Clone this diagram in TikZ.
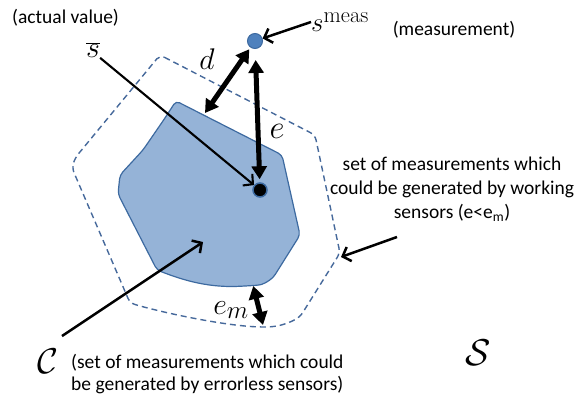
\documentclass[tikz,border=0pt]{standalone}
\usepackage{fontspec}
\setmainfont{Carlito}
\setmathrm{Latin Modern Roman}
\usetikzlibrary{arrows.meta, positioning}
\definecolor{setfill}{RGB}{149, 179, 215}
\definecolor{setedge}{RGB}{61, 106, 160}
\definecolor{dotblue}{RGB}{79, 129, 189}
\definecolor{dashblue}{RGB}{70, 105, 155}
\tikzset{
	txt/.style={font=\fontsize{19.5}{24}\selectfont, align=center, inner sep=0pt},
	mth/.style={font=\Huge, inner sep=0pt, scale=1.2},
	pointer/.style={-{Straight Barb[length=7pt, width=15pt]}, line width=2.5pt},
	dist/.style={{Triangle[length=13pt, width=15pt]}-{Triangle[length=13pt, width=15pt]},
		line width=5pt},
}
\begin{document}
\begin{tikzpicture}[x=1pt, y=-1pt]
				\useasboundingbox (0,0) rectangle (588,401);
				% outer dashed set = working sensors
				\draw[dashblue, dash pattern=on 6pt off 4pt, line width=1.4pt, rounded corners=5pt]
				(160,55) -- (315,135) -- (340,253) -- (300,317)
				.. controls (285,325) and (275,327) .. (260,327)
				.. controls (220,325) and (160,312) .. (130,303)
				-- (72,168) -- (75,158) -- cycle;
				% inner filled set C
				\filldraw[fill=setfill, draw=setedge, line width=1.2pt, rounded corners=4pt]
				(176,101) -- (282,155) -- (300,235) -- (273,278)
				.. controls (262,285) .. (245,286)
				.. controls (210,288) and (185,281) .. (157,270)
				-- (118,194) -- (120,175) -- (143,150) -- (165,118) -- cycle;
				% points
				\node[circle, minimum size=15pt, inner sep=0pt, fill=dotblue, draw=setedge,
				line width=1pt] (smeas) at (255,41) {};
				\node[circle, minimum size=14pt, inner sep=0pt, fill=black, draw=setedge,
				line width=1.5pt] (sdot) at (260,190) {};
				% labels
				\node[txt, anchor=west] (actual) at (12,18) {(actual value)};
				\node[txt] (meas) at (454,30) {(measurement)};
				\node[mth] (sbar) at (93,50) {$\overline{s}$};
				\node[mth, scale=0.9, anchor=west] (smlab) at (311,22) {$s^{\mathrm{meas}}$};
				\node[mth] (dlab) at (207,59) {$d$};
				\node[mth, scale=1.1] (elab) at (277,131) {$e$};
				\node[mth] (emlab) at (231,310) {$e_m$};
				\node[mth, scale=1.2] (clab) at (48,361) {$\mathcal{C}$};
				\node[mth, scale=1.25] (slab) at (478,353) {$\mathcal{S}$};
				\node[txt] (worktxt) at (452,189)
				{set of measurements which\\could be generated by working\\sensors (e<e\textsubscript{m})};
				\node[txt, align=left, anchor=west, font=\fontsize{19.5}{22}\selectfont] (errtxt) at (71,374)
				{(set of measurements which could\\be generated by errorless sensors)};
				% connector ends
				\coordinate (ctail) at (62,336);
				\coordinate (chead) at (203,242);
				\coordinate (wtail) at (397,237);
				\coordinate (whead) at (341,257);
				\coordinate (dtail) at (205,113);
				\coordinate (emtop) at (253,285);
				\coordinate (embot) at (263,325);
				% pointers
				\draw[pointer, line width=2.1pt] (sbar.south east) -- (sdot);
				\draw[pointer] (ctail) -- (chead);
				\draw[pointer] (wtail) -- (whead);
				\draw[pointer] (smlab.west) -- (smeas);
				% distances
				\draw[dist, shorten >=2pt] (dtail) -- (smeas);
				\draw[dist, shorten <=11pt, shorten >=3pt] (smeas) -- (sdot);
				\draw[dist, shorten <=1pt] (emtop) -- (embot);
			\end{tikzpicture}
\end{document}
